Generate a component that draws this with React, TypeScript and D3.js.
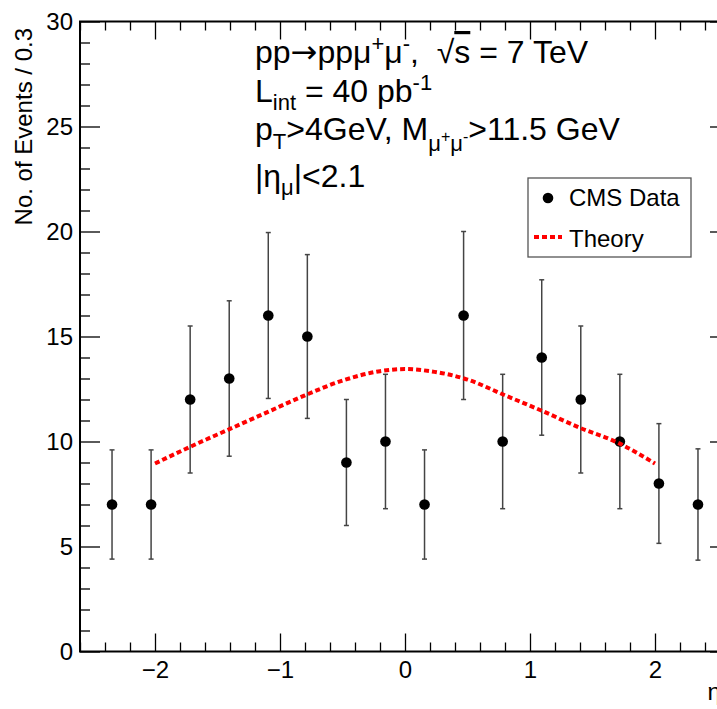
import React, { useRef, useEffect } from "react";
import {
  select,
  scaleLinear,
  axisBottom,
  axisTop,
  axisLeft,
  axisRight,
  line,
  curveMonotoneX,
  range,
  format
} from "d3";

// binned data
const etaCenters = [
  -2.34375, -2.03125, -1.71875, -1.40625, -1.09375, -0.78125, -0.46875, -0.15625,
  0.15625, 0.46875, 0.78125, 1.09375, 1.40625, 1.71875, 2.03125, 2.34375
];
const events = [7, 7, 12, 13, 16, 15, 9, 10, 7, 16, 10, 14, 12, 10, 8, 7];
const eventErrors = [2.6, 2.6, 3.5, 3.7, 3.95, 3.9, 3.0, 3.2, 2.6, 4.0, 3.2, 3.7, 3.5, 3.2, 2.85, 2.65];

// theory curve
const theoryEta = [-2, -1.7, -1.4, -1.1, -0.8, -0.5, -0.2, 0, 0.2, 0.5, 0.8, 1.1, 1.4, 1.7, 2];
const theoryEvents = [8.95, 9.8, 10.6, 11.4, 12.2, 12.9, 13.35, 13.45, 13.35, 12.95, 12.2, 11.45, 10.65, 9.95, 8.95];

const xMajorTicks = [-2, -1, 0, 1, 2];
const yMajorTicks = [0, 5, 10, 15, 20, 25, 30];

const W = 717;
const H = 709;
const FONT = "'Liberation Sans', Arial, Helvetica, sans-serif";

const x = scaleLinear().domain([-2.6, 2.6]).range([80, 730]);
const y = scaleLinear().domain([0, 30]).range([651.5, 21.5]);

type Seg = { t: string; size?: number; shift?: number; family?: string; deco?: string };

const Rich = ({ px, py, size, segs }: { px: number; py: number; size: number; segs: Seg[] }) => {
  let cur = 0;
  return (
    <text x={px} y={py} fontSize={size} style={{ whiteSpace: "pre" }}>
      {segs.map((s, i) => {
        const sh = s.shift || 0;
        const dy = sh - cur;
        cur = sh;
        return (
          <tspan
            key={i}
            dy={dy}
            fontSize={s.size || size}
            fontFamily={s.family}
            style={s.deco ? { textDecoration: s.deco } : undefined}
          >
            {s.t}
          </tspan>
        );
      })}
    </text>
  );
};

export default function App() {
  const axesRef = useRef<SVGGElement>(null);

  useEffect(() => {
    const g = select(axesRef.current);
    g.selectAll("*").remove();

    const minorX = range(-2.6, 2.61, 0.2).filter(
      (v) => !xMajorTicks.some((m) => Math.abs(m - v) < 1e-6)
    );
    const minorY = range(0, 31, 1).filter((v) => v % 5 !== 0);
    const intFmt = format("d");

    const style = (sel: any) => {
      sel.select(".domain").remove();
      sel.selectAll("line").attr("stroke", "#000").attr("stroke-width", 1.3);
      sel.selectAll("text").attr("font-family", FONT).attr("font-size", 24).attr("fill", "#000");
    };

    // bottom
    g.append("g")
      .attr("transform", `translate(0,${y(0)})`)
      .call(axisBottom(x).tickValues(xMajorTicks).tickSize(-18).tickPadding(9.5).tickFormat((d: any) => intFmt(d)))
      .call(style);
    g.append("g")
      .attr("transform", `translate(0,${y(0)})`)
      .call(axisBottom(x).tickValues(minorX).tickSize(-9).tickFormat(() => ""))
      .call(style);
    // top
    g.append("g")
      .attr("transform", `translate(0,${y(30)})`)
      .call(axisTop(x).tickValues(xMajorTicks).tickSize(-18).tickFormat(() => ""))
      .call(style);
    g.append("g")
      .attr("transform", `translate(0,${y(30)})`)
      .call(axisTop(x).tickValues(minorX).tickSize(-9).tickFormat(() => ""))
      .call(style);
    // left
    g.append("g")
      .attr("transform", `translate(${x(-2.6)},0)`)
      .call(axisLeft(y).tickValues(yMajorTicks).tickSize(-20).tickPadding(7))
      .call(style);
    g.append("g")
      .attr("transform", `translate(${x(-2.6)},0)`)
      .call(axisLeft(y).tickValues(minorY).tickSize(-10).tickFormat(() => ""))
      .call(style);
    // right
    g.append("g")
      .attr("transform", `translate(${x(2.6)},0)`)
      .call(axisRight(y).tickValues(yMajorTicks).tickSize(-20).tickFormat(() => ""))
      .call(style);
    g.append("g")
      .attr("transform", `translate(${x(2.6)},0)`)
      .call(axisRight(y).tickValues(minorY).tickSize(-10).tickFormat(() => ""))
      .call(style);
  }, []);

  const theoryLine = line<number>()
    .x((_, i) => x(theoryEta[i]))
    .y((d) => y(d))
    .curve(curveMonotoneX);

  return (
    <svg
      width={W}
      height={H}
      style={{ position: "absolute", left: 0, top: 0, background: "#fff", fontFamily: FONT }}
    >
      <rect x={0} y={0} width={W} height={H} fill="#fff" />
      <g ref={axesRef} />
      <rect
        x={x(-2.6)}
        y={y(30)}
        width={x(2.6) - x(-2.6)}
        height={y(0) - y(30)}
        fill="none"
        stroke="#000"
        strokeWidth={2}
      />

      {/* error bars and markers */}
      {etaCenters.map((e, i) => {
        const cx = x(e);
        const top = y(events[i] + eventErrors[i]);
        const bot = y(events[i] - eventErrors[i]);
        return (
          <g key={i} stroke="#444" strokeWidth={1.5}>
            <line x1={cx} x2={cx} y1={top} y2={bot} />
            <line x1={cx - 2.5} x2={cx + 2.5} y1={top} y2={top} />
            <line x1={cx - 2.5} x2={cx + 2.5} y1={bot} y2={bot} />
            <circle cx={cx} cy={y(events[i])} r={5.3} fill="#000" stroke="none" />
          </g>
        );
      })}

      <path
        d={theoryLine(theoryEvents) || ""}
        fill="none"
        stroke="#ff0000"
        strokeWidth={4}
        strokeDasharray="5 3"
      />

      {/* axis titles */}
      <text
        transform="translate(32,28) rotate(-90)"
        textAnchor="end"
        fontSize={24}
        fill="#000"
      >
        No. of Events / 0.3
      </text>
      <text x={730} y={700} textAnchor="end" fontSize={24} style={{ whiteSpace: "pre" }}>
        η<tspan dy={6} fontSize={16}>μ</tspan>
      </text>

      {/* annotations */}
      <Rich
        px={255}
        py={63}
        size={32}
        segs={[
          { t: "pp" },
          { t: "→", family: "'DejaVu Sans', sans-serif" },
          { t: "ppμ" },
          { t: "+", size: 22, shift: -12 },
          { t: "μ" },
          { t: "-", size: 22, shift: -12 },
          { t: ",  √" },
          { t: "s", deco: "overline" },
          { t: " = 7 TeV" }
        ]}
      />
      <Rich
        px={255}
        py={102}
        size={32}
        segs={[
          { t: "L" },
          { t: "int", size: 22, shift: 8 },
          { t: " = 40 pb" },
          { t: "-1", size: 22, shift: -12 }
        ]}
      />
      <Rich
        px={255}
        py={140}
        size={32}
        segs={[
          { t: "p" },
          { t: "T", size: 22, shift: 9 },
          { t: ">4GeV, M" },
          { t: "μ", size: 22, shift: 11 },
          { t: "+", size: 16, shift: 2 },
          { t: "μ", size: 22, shift: 11 },
          { t: "-", size: 16, shift: 2 },
          { t: ">11.5 GeV" }
        ]}
      />
      <Rich
        px={255}
        py={187}
        size={32}
        segs={[
          { t: "|η" },
          { t: "μ", size: 22, shift: 8 },
          { t: "|<2.1" }
        ]}
      />

      {/* legend */}
      <rect x={528} y={178} width={163} height={79} fill="#fff" stroke="#555" strokeWidth={1.3} />
      <circle cx={548} cy={198} r={5.3} fill="#000" />
      <text x={569} y={206} fontSize={24}>
        CMS Data
      </text>
      <line x1={534} x2={562} y1={237} y2={237} stroke="#ff0000" strokeWidth={4} strokeDasharray="5 3" />
      <text x={569} y={247} fontSize={24}>
        Theory
      </text>
    </svg>
  );
}
